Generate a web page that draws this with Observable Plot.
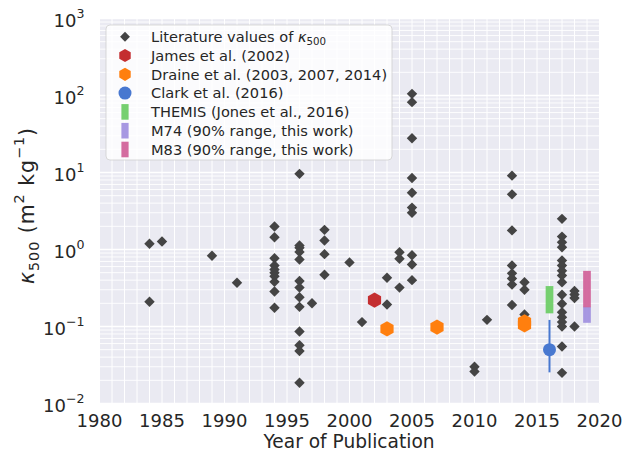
<!DOCTYPE html>
<html><head><meta charset="utf-8">
<script src="https://cdn.jsdelivr.net/npm/d3@7"></script>
<script src="https://cdn.jsdelivr.net/npm/@observablehq/plot@0.6"></script>
<style>
body{margin:0;background:#fff;}
svg{font-family:"DejaVu Sans",sans-serif;}
</style>
</head><body><div id="chart"></div>
<script>
// ---- data ----
const litYears = [
  1984,1984,
  1985,
  1989,
  1991,
  1994,1994,1994,1994,1994,1994,1994,1994,1994,1994,
  1996,1996,1996,1996,1996,1996,1996,1996,1996,1996,1996,1996,1996,
  1997,
  1998,1998,1998,1998,
  2000,
  2001,
  2003,2003,
  2004,2004,2004,
  2005,2005,2005,2005,2005,2005,2005,2005,2005,2005,
  2010,2010,
  2011,
  2013,2013,2013,2013,2013,2013,2013,2013,
  2014,2014,2014,
  2017,2017,2017,2017,2017,2017,2017,2017,2017,2017,2017,2017,2017,2017,2017,2017,2017,
  2018,2018,2018,2018
];
const litValues = [
  1.19,0.21,
  1.27,
  0.83,
  0.37,
  1.99,1.44,0.77,0.62,0.55,0.50,0.45,0.38,0.285,0.175,
  9.6,1.13,1.05,0.93,0.74,0.39,0.32,0.24,0.18,0.086,0.057,0.048,0.0186,
  0.2,
  1.80,1.31,0.87,0.47,
  0.68,
  0.114,
  0.43,0.193,
  0.92,0.76,0.32,
  105,82,27.9,8.5,5.45,3.5,3.0,0.84,0.64,0.40,
  0.030,0.026,
  0.122,
  9.1,5.2,1.77,0.62,0.49,0.42,0.35,0.19,
  0.376,0.30,0.143,
  2.5,1.47,1.24,1.07,0.72,0.62,0.53,0.46,0.376,0.258,0.197,0.153,0.132,0.114,0.1,0.055,0.025,
  0.29,0.26,0.235,0.1
];
const jamesYears = [2002];
const jamesValues = [0.22];
const draineYears = [2003, 2007, 2014, 2014];
const draineValues = [0.093, 0.098, 0.115, 0.105];
const clarkYears = [2016];
const clarkValues = [0.050];
const clarkLow = [0.025];
const clarkHigh = [0.12];
const rangeNames = ["THEMIS", "M74", "M83"];
const rangeYears = [2016, 2019, 2019];
const rangeLow = [0.146, 0.11, 0.175];
const rangeHigh = [0.33, 0.178, 0.52];
const xTicks = [1980, 1985, 1990, 1995, 2000, 2005, 2010, 2015, 2020];
const yTickExps = [-2, -1, 0, 1, 2, 3];
const legendLabels = [
  [{t:"Literature values of "},{t:"κ",i:true},{t:"500",s:"sub"}],
  [{t:"James et al. (2002)"}],
  [{t:"Draine et al. (2003, 2007, 2014)"}],
  [{t:"Clark et al. (2016)"}],
  [{t:"THEMIS (Jones et al., 2016)"}],
  [{t:"M74 (90% range, this work)"}],
  [{t:"M83 (90% range, this work)"}]
];
const xLabel = "Year of Publication";
const yLabelParts = [{t:"κ",i:true},{t:"500",s:"sub"},{t:" (m"},{t:"2",s:"sup"},{t:" kg"},{t:"−1",s:"sup"},{t:")"}];

// ---- colours ----
const C = {lit:"#444444", james:"#c42e30", draine:"#ff7f0e", clark:"#4878d0",
  themis:"#6acc64", m74:"#a08fe0", m83:"#d05f98"};
const rangeColors = [C.themis, C.m74, C.m83];

// ---- tables ----
const lit = litYears.map((x,i)=>({x, y: litValues[i]}));
const james = jamesYears.map((x,i)=>({x, y: jamesValues[i]}));
const draine = draineYears.map((x,i)=>({x, y: draineValues[i]}));
const clark = clarkYears.map((x,i)=>({x, y: clarkValues[i], lo: clarkLow[i], hi: clarkHigh[i]}));
const ranges = rangeNames.map((n,i)=>({n, x: rangeYears[i], lo: rangeLow[i], hi: rangeHigh[i], c: rangeColors[i]}));

const majorY = yTickExps.map(e => Math.pow(10, e));
const minorY = [];
for (const e of yTickExps.slice(0,-1)) for (let k=2;k<=9;k++) minorY.push(k*Math.pow(10,e));
const yearGrid = d3.range(xTicks[0], xTicks[xTicks.length-1]+1);

const plot = Plot.plot({
  width: 623, height: 459,
  marginLeft: 99, marginRight: 24, marginTop: 18, marginBottom: 56,
  style: {background: "transparent", fontFamily: "DejaVu Sans", color: "#262626", overflow: "visible"},
  x: {domain: [1980, 2020], axis: null},
  y: {type: "log", domain: [1e-2, 1e3], axis: null},
  marks: [
    Plot.frame({fill: "#EAEAF2", stroke: null}),
    Plot.ruleY(minorY, {stroke: "white", strokeWidth: 0.9}),
    Plot.ruleY(majorY, {stroke: "white", strokeWidth: 1.3}),
    Plot.ruleX(yearGrid, {stroke: "white", strokeWidth: 1}),
    Plot.dot(lit, {x:"x", y:"y", symbol:"diamond2", r:4.7, fill:C.lit, stroke:null}),
    Plot.dot(james, {x:"x", y:"y", symbol:"hexagon", r:6.6, fill:C.james, stroke:null}),
    Plot.dot(draine, {x:"x", y:"y", symbol:"hexagon", r:6.6, fill:C.draine, stroke:null}),
    Plot.ruleX(clark, {x:"x", y1:"lo", y2:"hi", stroke:C.clark, strokeWidth:2}),
    Plot.dot(clark, {x:"x", y:"y", r:6.5, fill:C.clark, stroke:null}),
    Plot.ruleX(ranges, {x:"x", y1:"lo", y2:"hi", stroke:"c", strokeWidth:7.7, strokeOpacity:0.92}),
    Plot.axisX(xTicks, {tickSize:0, tickPadding:11, fontSize:18, fill:"#262626", tickFormat: d => String(d), label:null})
  ]
});
document.getElementById("chart").appendChild(plot);

const svg = d3.select(plot);
const ys = plot.scale("y");

function rich(sel, parts, size) {
  let cur = 0;
  for (const p of parts) {
    const target = p.s === "sub" ? size*0.24 : p.s === "sup" ? -size*0.5 : 0;
    const ts = sel.append("tspan").text(p.t).attr("dy", target - cur);
    if (p.s) ts.attr("font-size", size*0.7);
    if (p.i) ts.attr("font-style", "italic");
    cur = target;
  }
}

// y tick labels
for (const e of yTickExps) {
  const y = ys.apply(Math.pow(10, e));
  const t = svg.append("text").attr("x", 84.5).attr("y", y + 8.5)
    .attr("text-anchor", "end").attr("font-size", 18).attr("fill", "#262626");
  rich(t, [{t:"10"},{t: e < 0 ? "−" + (-e) : String(e), s:"sup"}], 18);
}

// axis labels
svg.append("text").attr("x", 349).attr("y", 448).attr("text-anchor","middle")
  .attr("font-size", 18.6).attr("fill","#262626").text(xLabel);
const yl = svg.append("text").attr("transform","translate(34,206) rotate(-90)")
  .attr("text-anchor","middle").attr("font-size",20.5).attr("fill","#262626")
  .attr("textLength", 156).attr("lengthAdjust", "spacing");
rich(yl, yLabelParts, 20.5);

// legend
const lg = svg.append("g");
lg.append("rect").attr("x",106).attr("y",25).attr("width",286).attr("height",135).attr("rx",4)
  .attr("fill","white").attr("fill-opacity",0.8).attr("stroke","#d0d0d0").attr("stroke-opacity",0.8);
const rowY = i => 36.7 + i*18.8;
const mx = 125;
const hexPath = r => { const pts=[]; for(let k=0;k<6;k++){const a=Math.PI/2+k*Math.PI/3; pts.push([r*Math.cos(a), r*Math.sin(a)]);} return "M"+pts.map(p=>p.join(",")).join("L")+"Z"; };
lg.append("path").attr("d", d3.symbol(d3.symbolDiamond2, 62)()).attr("transform",`translate(${mx},${rowY(0)})`).attr("fill",C.lit);
lg.append("path").attr("d", hexPath(6.6)).attr("transform",`translate(${mx},${rowY(1)})`).attr("fill",C.james);
lg.append("path").attr("d", hexPath(6.6)).attr("transform",`translate(${mx},${rowY(2)})`).attr("fill",C.draine);
lg.append("circle").attr("cx",mx).attr("cy",rowY(3)).attr("r",6.5).attr("fill",C.clark);
[C.themis, C.m74, C.m83].forEach((c,j)=>{
  lg.append("rect").attr("x",mx-3.6).attr("y",rowY(4+j)-7.8).attr("width",7.2).attr("height",15.6).attr("fill",c).attr("fill-opacity",0.92);
});
legendLabels.forEach((parts,i)=>{
  const t = lg.append("text").attr("x",151).attr("y",rowY(i)+5.2).attr("text-anchor","start")
    .attr("font-size",14.6).attr("fill","#262626");
  rich(t, parts, 14.6);
});
</script>
</body></html>
